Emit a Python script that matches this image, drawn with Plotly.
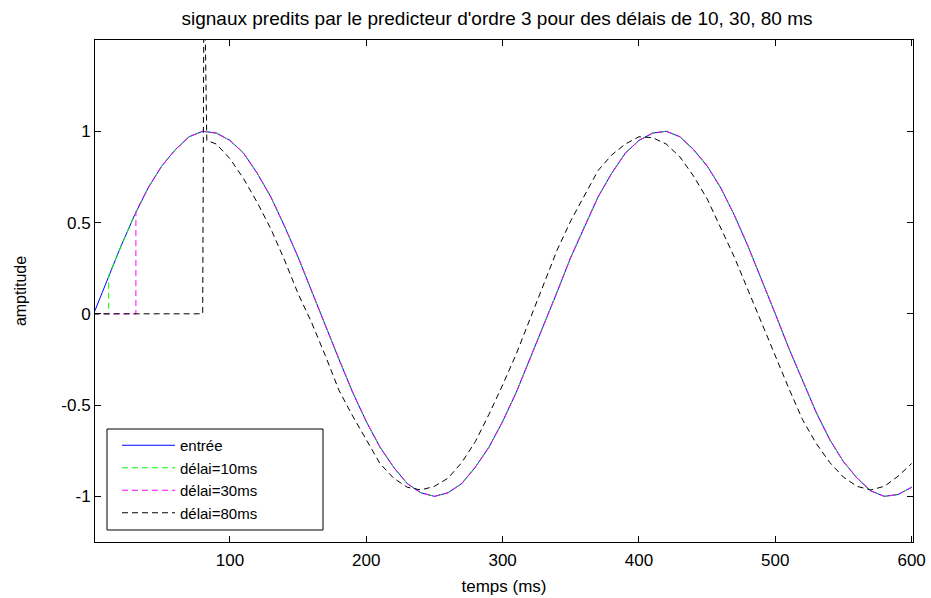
import plotly.graph_objects as go

# ---------------- data ----------------
t_ms = list(range(0, 601, 10))
entree = [0.00, 0.19, 0.37, 0.54, 0.69, 0.81, 0.90, 0.97, 1.00, 0.99,
          0.95, 0.88, 0.77, 0.64, 0.48, 0.31, 0.12, -0.06, -0.25, -0.43,
          -0.59, -0.73, -0.84, -0.93, -0.98, -1.00, -0.98, -0.93, -0.84, -0.73,
          -0.59, -0.43, -0.25, -0.06, 0.12, 0.31, 0.48, 0.64, 0.77, 0.88,
          0.95, 0.99, 1.00, 0.97, 0.90, 0.81, 0.69, 0.54, 0.37, 0.19,
          0.00, -0.19, -0.37, -0.54, -0.69, -0.81, -0.90, -0.97, -1.00, -0.99,
          -0.95]

# délai=10ms : zero until the delay, then identical to the input
d10_start_t = [0, 11, 11]
d10_start_y = [0.0, 0.0, 0.21]
# délai=30ms
d30_start_t = [0, 31, 31]
d30_start_y = [0.0, 0.0, 0.56]
# délai=80ms : zero, spike at the delay, then a leading / damped curve
d80_start_t = [0, 80, 81, 83]
d80_start_y = [0.0, 0.0, 2.0, 0.95]
d80_t = list(range(90, 601, 10))
d80_y = [0.93, 0.85, 0.74, 0.61, 0.465, 0.295, 0.11, -0.05, -0.23, -0.42, -0.56,
         -0.69, -0.82, -0.90, -0.95, -0.965, -0.945, -0.90, -0.815, -0.70, -0.55,
         -0.39, -0.22, -0.03, 0.16, 0.35, 0.51, 0.65, 0.785, 0.87, 0.93,
         0.97, 0.965, 0.93, 0.86, 0.755, 0.63, 0.47, 0.31, 0.13, -0.05,
         -0.235, -0.41, -0.58, -0.71, -0.815, -0.895, -0.945, -0.965, -0.945, -0.89,
         -0.82]

x_ticks = [100, 200, 300, 400, 500, 600]
y_ticks = [-1, -0.5, 0, 0.5, 1]
y_tick_labels = ["-1", "-0.5", "0", "0.5", "1"]

title_text = "signaux predits par le predicteur d'ordre 3 pour des délais de 10, 30, 80 ms"

# ---------------- figure ----------------
FONT = "Liberation Sans, Arial, Helvetica, sans-serif"
DASH = "6px,4px"

fig = go.Figure()
fig.add_trace(go.Scatter(x=t_ms, y=entree, mode="lines", name="entrée",
                         line=dict(color="#0000ff", width=1)))
fig.add_trace(go.Scatter(x=d10_start_t + t_ms[2:], y=d10_start_y + entree[2:],
                         mode="lines", name="délai=10ms",
                         line=dict(color="#00ff00", width=1, dash=DASH)))
fig.add_trace(go.Scatter(x=d30_start_t + t_ms[4:], y=d30_start_y + entree[4:],
                         mode="lines", name="délai=30ms",
                         line=dict(color="#ff00ff", width=1, dash=DASH)))
fig.add_trace(go.Scatter(x=d80_start_t + d80_t, y=d80_start_y + d80_y,
                         mode="lines", name="délai=80ms",
                         line=dict(color="#000000", width=1, dash=DASH)))

axis_common = dict(showline=True, linecolor="black", linewidth=1, mirror="ticks",
                   ticks="inside", ticklen=6, tickcolor="black", tickwidth=1,
                   showgrid=False, zeroline=False,
                   tickfont=dict(family=FONT, size=17, color="black"))

fig.update_layout(
    width=931, height=598,
    margin=dict(l=95, r=18, t=40, b=56),
    paper_bgcolor="white", plot_bgcolor="white",
    font=dict(family=FONT, size=16, color="black"),
    title=dict(text=title_text, x=(497 - 95) / 818, xref="paper", xanchor="center",
               y=1 - 18 / 598, yref="container", yanchor="middle",
               font=dict(family=FONT, size=19, color="black")),
    xaxis=dict(range=[1, 601], tickvals=x_ticks, ticklabelstandoff=3,
               title=dict(text="temps (ms)", standoff=10,
                          font=dict(family=FONT, size=17, color="black")),
               automargin=False, **axis_common),
    yaxis=dict(range=[-1.25, 1.5], tickvals=y_ticks, ticktext=y_tick_labels,
               title=dict(text="amptitude", standoff=30,
                          font=dict(family=FONT, size=16, color="black")),
               automargin=False, **axis_common),
    showlegend=True,
    legend=dict(x=(117 - 95) / 818, y=(542 - 429) / 502, xanchor="left", yanchor="top",
                bgcolor="rgba(0,0,0,0)", borderwidth=0,
                font=dict(family=FONT, size=15, color="black"),
                tracegroupgap=0, itemwidth=53),
    shapes=[dict(type="rect", xref="paper", yref="paper",
                 x0=(107 - 95) / 818, x1=(323 - 95) / 818,
                 y0=(542 - 530) / 502, y1=(542 - 429) / 502,
                 line=dict(color="black", width=1), fillcolor="white", layer="below")],
)

fig.write_html("out.html", config={"displayModeBar": False},
               post_script="document.body.style.margin='0';")
